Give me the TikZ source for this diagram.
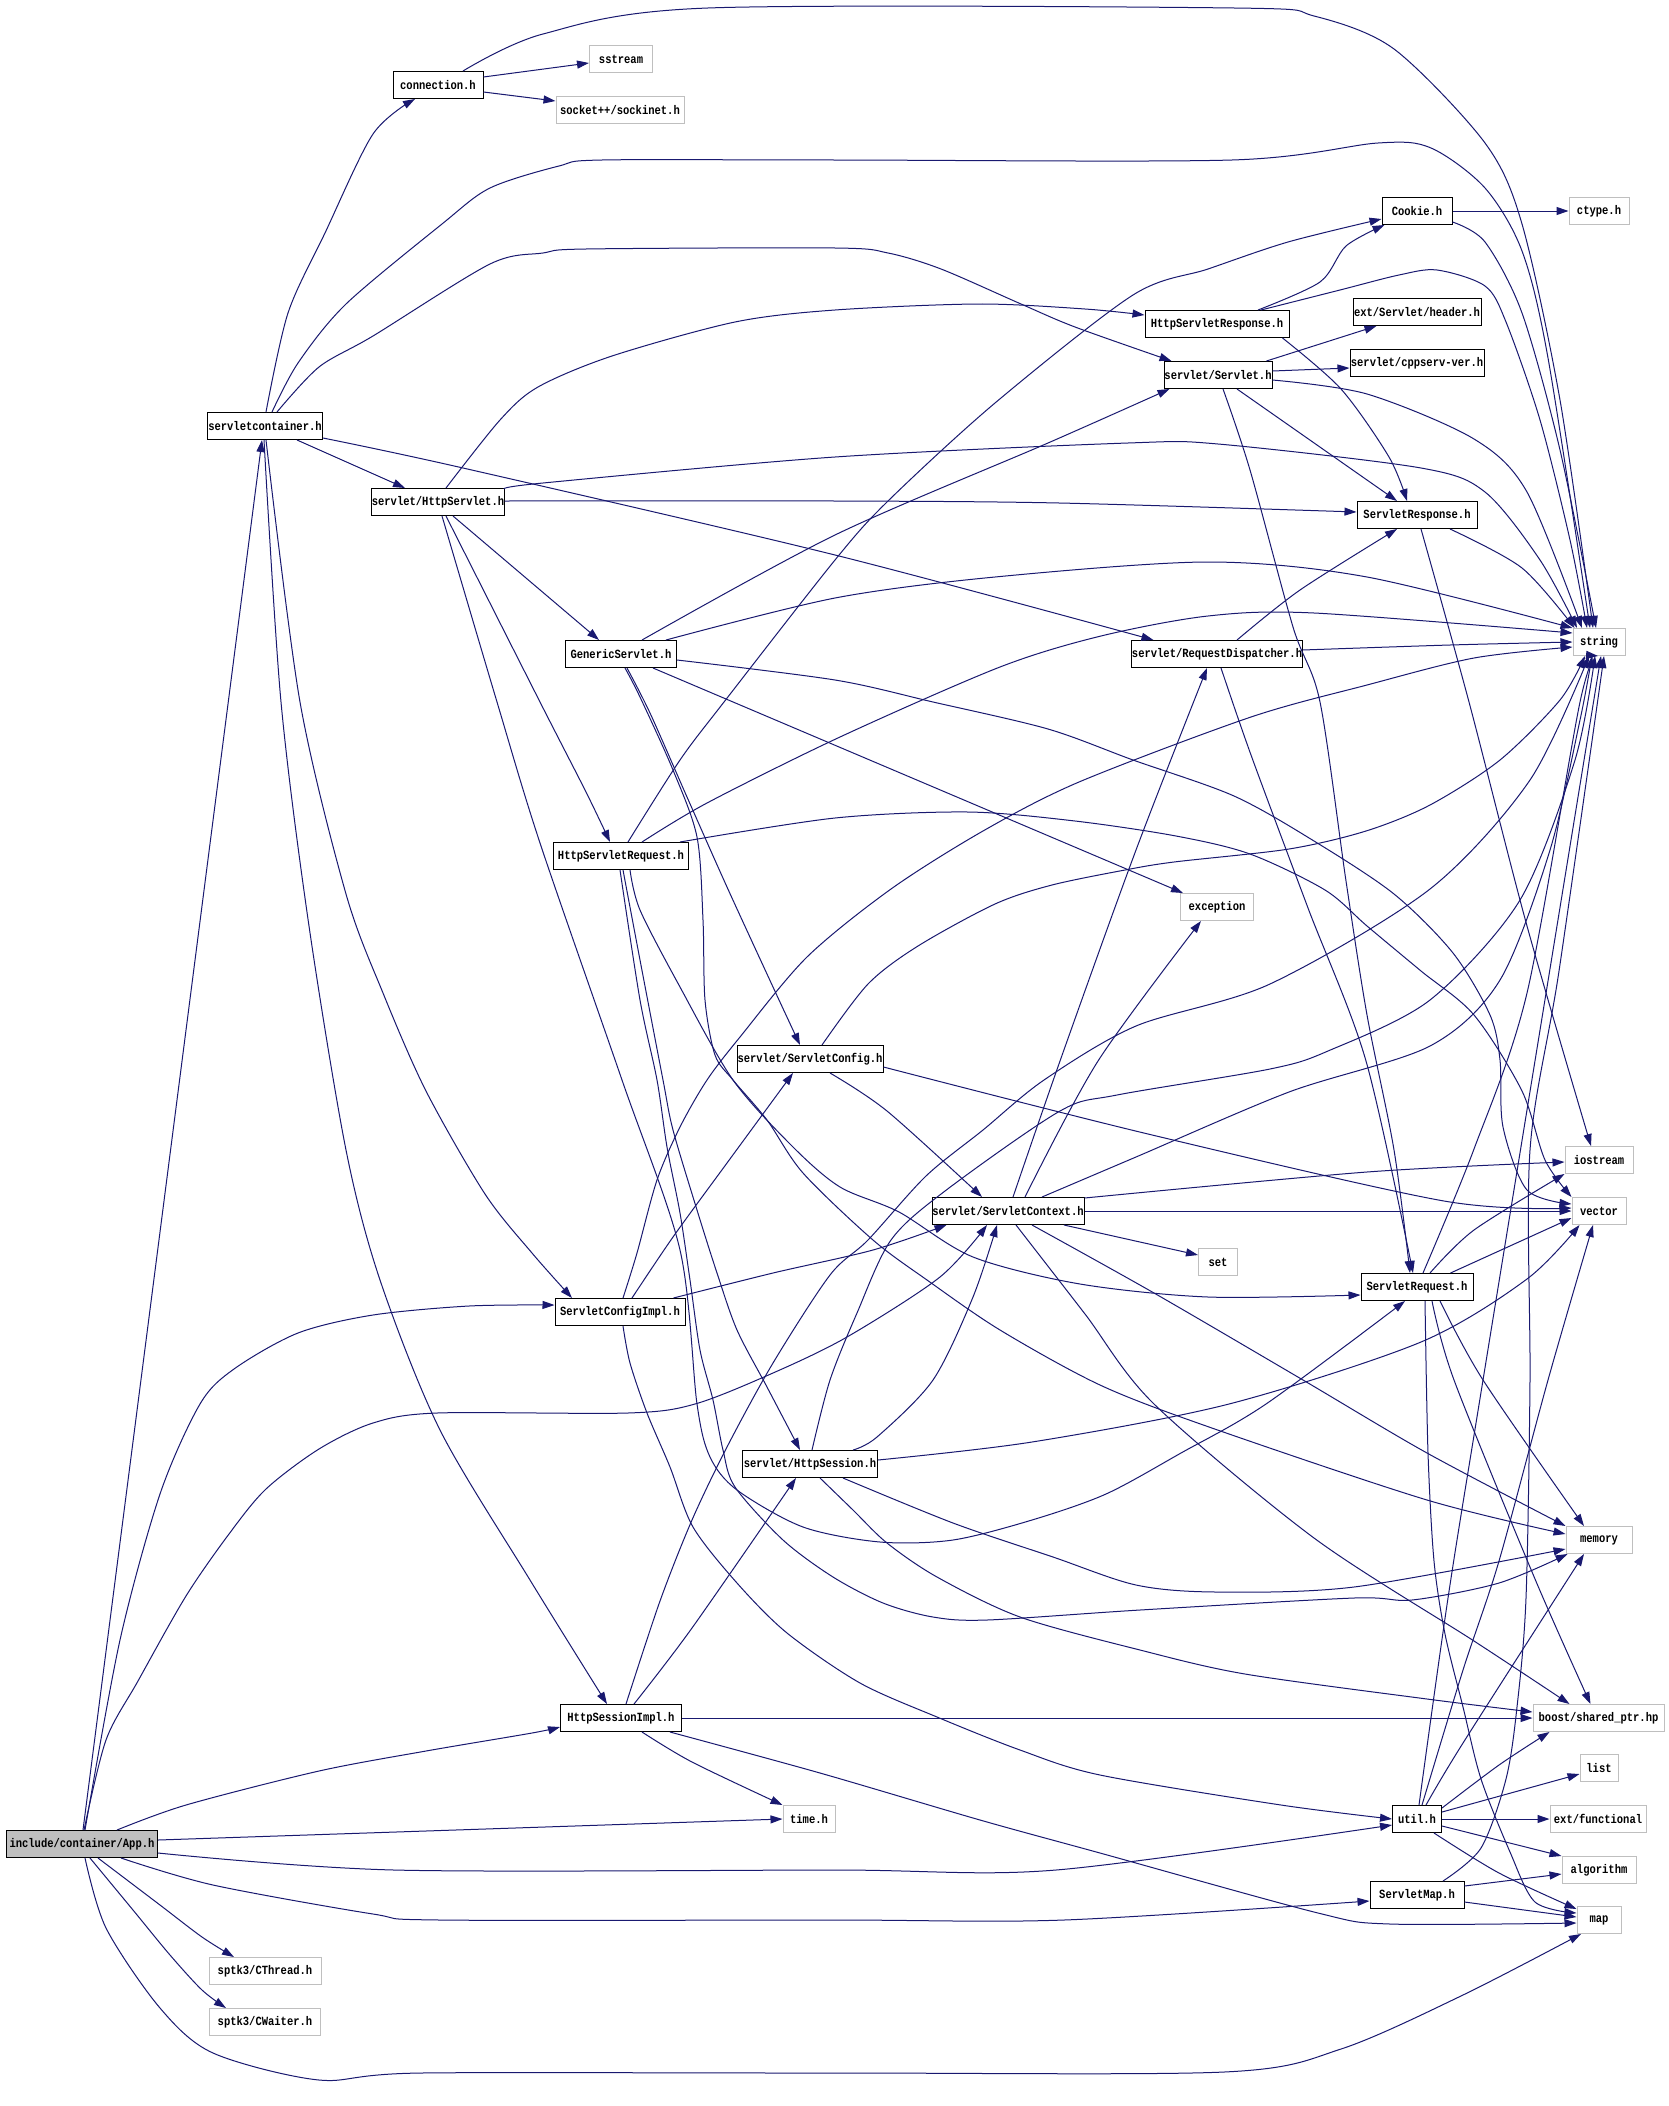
\documentclass[tikz,border=0pt]{standalone}
\usepackage{fontspec}
\newfontfamily\lblfont{Liberation Mono}[FakeStretch=0.84]
\usetikzlibrary{arrows.meta}
\definecolor{edgecol}{RGB}{25,25,112}
\definecolor{extgray}{RGB}{191,191,191}
\definecolor{appfill}{RGB}{191,191,191}
\begin{document}
\begin{tikzpicture}[x=1pt,y=-1pt,
  dep/.style={draw=edgecol, line width=1pt, -{Triangle[length=12pt,width=8pt]}},
  hbox/.style={draw=black, line width=1pt, minimum height=27pt, inner sep=0pt,
    font=\lblfont\bfseries\fontsize{12.5pt}{13pt}\selectfont},
  xbox/.style={hbox, draw=extgray}]
\useasboundingbox (0,0) rectangle (1669,2106);
\fill[white] (0,0) rectangle (1669,2106);

% ---------- nodes ----------
\node[hbox, minimum width=151pt, fill=appfill] (App) at (82,1844) {include/container/App.h};
\node[hbox, minimum width=90pt]  (connection) at (438,85) {connection.h};
\node[xbox, minimum width=63pt]  (sstream) at (621,59) {sstream};
\node[xbox, minimum width=128pt] (socket) at (620,110) {socket++/sockinet.h};
\node[hbox, minimum width=115pt] (servletcontainer) at (265,426) {servletcontainer.h};
\node[hbox, minimum width=131pt] (HttpServlet) at (438,502) {servlet/HttpServlet.h};
\node[hbox, minimum width=111pt] (GenericServlet) at (621,654) {GenericServlet.h};
\node[hbox, minimum width=70pt]  (Cookie) at (1417,211) {Cookie.h};
\node[xbox, minimum width=60pt]  (ctype) at (1599,211) {ctype.h};
\node[hbox, minimum width=144pt] (HttpServletResponse) at (1217,324) {HttpServletResponse.h};
\node[hbox, minimum width=128pt] (header) at (1417,312) {ext/Servlet/header.h};
\node[hbox, minimum width=108pt] (Servlet) at (1218,375) {servlet/Servlet.h};
\node[hbox, minimum width=134pt] (cppserv) at (1417,363) {servlet/cppserv-ver.h};
\node[hbox, minimum width=120pt] (ServletResponse) at (1417,515) {ServletResponse.h};
\node[xbox, minimum width=52pt]  (string) at (1599,642) {string};
\node[hbox, minimum width=170pt] (RequestDispatcher) at (1217,654) {servlet/RequestDispatcher.h};
\node[hbox, minimum width=135pt] (HttpServletRequest) at (621,856) {HttpServletRequest.h};
\node[hbox, minimum width=146pt] (ServletConfig) at (810,1059) {servlet/ServletConfig.h};
\node[hbox, minimum width=130pt] (ServletConfigImpl) at (620,1312) {ServletConfigImpl.h};
\node[xbox, minimum width=73pt]  (exception) at (1217,907) {exception};
\node[hbox, minimum width=152pt] (ServletContext) at (1008,1211) {servlet/ServletContext.h};
\node[xbox, minimum width=39pt]  (set) at (1218,1262) {set};
\node[hbox, minimum width=112pt] (ServletRequest) at (1417,1287) {ServletRequest.h};
\node[xbox, minimum width=68pt]  (iostream) at (1599,1160) {iostream};
\node[xbox, minimum width=54pt]  (vector) at (1599,1211) {vector};
\node[hbox, minimum width=135pt] (HttpSession) at (810,1464) {servlet/HttpSession.h};
\node[hbox, minimum width=121pt] (HttpSessionImpl) at (621,1718) {HttpSessionImpl.h};
\node[xbox, minimum width=52pt]  (timeh) at (809,1819) {time.h};
\node[xbox, minimum width=112pt] (CThread) at (265,1971) {sptk3/CThread.h};
\node[xbox, minimum width=111pt] (CWaiter) at (265,2022) {sptk3/CWaiter.h};
\node[xbox, minimum width=66pt]  (memory) at (1599,1540) {memory};
\node[xbox, minimum width=131pt] (boost) at (1598.5,1718) {boost/shared\_ptr.hp};
\node[xbox, minimum width=38pt]  (list) at (1599,1768) {list};
\node[hbox, minimum width=49pt]  (util) at (1417,1819) {util.h};
\node[xbox, minimum width=96pt]  (functional) at (1598,1819) {ext/functional};
\node[xbox, minimum width=74pt]  (algorithm) at (1599,1870) {algorithm};
\node[hbox, minimum width=94pt]  (ServletMap) at (1417,1895) {ServletMap.h};
\node[xbox, minimum width=44pt]  (map) at (1599,1920) {map};

% ---------- App.h ----------
\draw[dep] ([xshift=1pt]App.north) -- ([xshift=-3pt]servletcontainer.south);
\draw[dep] plot[smooth] coordinates {([xshift=3pt]App.north) (120,1640) (160,1494) (200,1404) (234,1369) (298,1333) (373,1315) (469,1306) ([yshift=7pt]ServletConfigImpl.west)};
\draw[dep] plot[smooth] coordinates {([xshift=2pt]App.north) (106,1740) (138,1681) (186,1596) (229,1534) (266,1489) (319,1449) (373,1423) (437,1413) (628,1413) (695,1404) (773,1373) (847,1337) (940,1277) ([xshift=-21pt]ServletContext.south)};
\draw[dep] plot[smooth] coordinates {([xshift=35pt]App.north) (186,1805) (319,1771) (426,1751) (532,1733) ([yshift=-9pt]HttpSessionImpl.west)};
\draw[dep] ([yshift=4pt]App.east) -- (timeh.west);
\draw[dep] plot[smooth] coordinates {([yshift=-9pt]App.east) (394,1870) (835,1870) (1056,1870) ([yshift=-6pt]util.west)};
\draw[dep] plot[smooth] coordinates {([xshift=39pt]App.south) (213,1885) (373,1914) (440,1920) (835,1920) (1064,1920) ([yshift=-6pt]ServletMap.west)};
\draw[dep] plot[smooth] coordinates {([xshift=16pt]App.south) (160,1905) (202,1937) ([xshift=-31pt]CThread.north)};
\draw[dep] plot[smooth] coordinates {([xshift=8pt]App.south) (133,1910) (170,1955) (202,1990) ([xshift=-39pt]CWaiter.north)};
\draw[dep] plot[smooth] coordinates {([xshift=3pt]App.south) (106,1928) (160,2008) (213,2053) (319,2080) (421,2073) (835,2073) (1224,2072) (1341,2049) (1463,1995) ([xshift=-18pt]map.south)};

% ---------- servletcontainer.h ----------
\draw[dep] plot[smooth] coordinates {([xshift=1pt]servletcontainer.north) (288,313) (325,233) (373,134) ([xshift=-23pt]connection.south)};
\draw[dep] plot[smooth] coordinates {([xshift=7pt]servletcontainer.north) (298,363) (346,304) (442,224) (490,188) (559,166) (602,160) (835,160) (1232,160) (1378,143) (1431,148) (1485,188) (1522,251) (1548,358) ([xshift=-9pt]string.north)};
\draw[dep] plot[smooth] coordinates {([xshift=12pt]servletcontainer.north) (319,367) (373,336) (490,264) (543,253) (586,249) (835,248) (888,253) (941,269) (1021,304) (1075,327) ([xshift=8pt]Servlet.north west)};
\draw[dep] ([xshift=32pt]servletcontainer.south) -- ([xshift=-33pt]HttpServlet.north);
\draw[dep] plot[smooth] coordinates {([yshift=-12pt]servletcontainer.east) (463,468) (835,555) ([xshift=22pt]RequestDispatcher.north west)};
\draw[dep] plot[smooth] coordinates {([xshift=1pt]servletcontainer.south) (300,702) (346,894) (383,993) (426,1091) (485,1194) (532,1253) ([xshift=-48pt]ServletConfigImpl.north)};
\draw[dep] plot[smooth] coordinates {([xshift=-1pt]servletcontainer.south) (281,702) (309,926) (346,1150) (380,1280) (440,1430) (530,1580) ([xshift=-14pt]HttpSessionImpl.north)};

% ---------- connection.h ----------
\draw[dep] ([yshift=8pt]connection.east) -- ([yshift=-4pt]sstream.west);
\draw[dep] ([yshift=-7pt]connection.east) -- ([yshift=9pt]socket.west);
\draw[dep] plot[smooth] coordinates {([xshift=25pt]connection.north) (543,34) (708,8) (1234,8) (1314,16) (1394,49) (1485,143) (1522,224) (1560,400) ([xshift=-6pt]string.north)};

% ---------- servlet/HttpServlet.h ----------
\draw[dep] plot[smooth] coordinates {([xshift=8pt]HttpServlet.north) (500,420) (538,387) (612,356) (735,322) (835,310) (979,304) (1085,309) ([yshift=9pt]HttpServletResponse.west)};
\draw[dep] plot[smooth] coordinates {([yshift=13pt]HttpServlet.east) (543,483) (835,457) (1128,443) (1218,444) (1421,468) (1485,492) (1540,560) ([xshift=-22pt]string.north)};
\draw[dep] plot[smooth] coordinates {([yshift=1pt]HttpServlet.east) (835,501) (1059,503) ([yshift=3pt]ServletResponse.west)};
\draw[dep] ([xshift=15pt]HttpServlet.south) -- ([xshift=-22pt]GenericServlet.north);
\draw[dep] plot[smooth] coordinates {([xshift=8pt]HttpServlet.south) (540,702) (586,792) ([xshift=-11pt]HttpServletRequest.north)};
\draw[dep] plot[smooth] coordinates {([xshift=4pt]HttpServlet.south) (497,702) (540,843) (622,1080) (680,1250) (697,1404) (710,1457) (737,1490) (803,1527) (880,1542) (953,1540) (1032,1520) (1106,1494) (1181,1453) (1266,1404) ([xshift=-12pt]ServletRequest.south)};

% ---------- GenericServlet.h ----------
\draw[dep] plot[smooth] coordinates {([xshift=21pt]GenericServlet.north) (835,535) (1048,443) ([xshift=6pt]Servlet.south west)};
\draw[dep] plot[smooth] coordinates {([xshift=45pt]GenericServlet.north) (835,598) (995,577) (1208,562) (1367,577) (string.north west)};
\draw[dep] plot[smooth] coordinates {([yshift=-6pt]GenericServlet.east) (835,680) (933,702) (1048,729) (1133,760) (1234,796) (1314,841) (1394,894) (1453,953) (1490,1015) (1500,1060) (1503,1127) (1527,1190) ([yshift=7pt]vector.west)};
\draw[dep] ([xshift=32pt]GenericServlet.south) -- ([xshift=3pt]exception.north west);
\draw[dep] plot[smooth] coordinates {([xshift=6pt]GenericServlet.south) (650,713) (687,797) (727,887) (773,987) ([xshift=-10pt]ServletConfig.north)};
\draw[dep] plot[smooth] coordinates {([xshift=4pt]GenericServlet.south) (640,697) (673,770) (697,837) (703,920) (705,1000) (715,1055) (733,1080) (767,1120) (803,1173) (873,1240) (927,1280) (1000,1330) (1100,1385) (1209,1427) (1427,1500) ([yshift=6pt]memory.west)};

% ---------- HttpServletRequest.h ----------
\draw[dep] plot[smooth] coordinates {([xshift=7pt]HttpServletRequest.north) (680,760) (724,702) (835,560) (888,501) (995,403) (1133,295) (1208,269) (1288,242) ([yshift=-8pt]Cookie.west)};
\draw[dep] plot[smooth] coordinates {([xshift=21pt]HttpServletRequest.north) (707,803) (840,737) (1000,667) (1101,636) (1208,616) (1314,613) ([yshift=9pt]string.west)};
\draw[dep] plot[smooth] coordinates {([xshift=-9pt]HttpServletRequest.north east) (835,818) (968,812) (1075,821) (1176,836) (1250,854) (1325,890) (1367,926) (1421,971) (1474,1015) (1522,1091) (1545,1160) (vector.north west)};
\draw[dep] plot[smooth] coordinates {([xshift=9pt]HttpServletRequest.south) (640,910) (680,987) (733,1080) (793,1147) (840,1187) (899,1212) (973,1257) (1080,1284) (1208,1297) ([yshift=-8pt]ServletRequest.west)};
\draw[dep] plot[smooth] coordinates {([xshift=2pt]HttpServletRequest.south) (640,960) (663,1080) (673,1130) (697,1210) (717,1273) (737,1330) (767,1387) ([xshift=-10pt]HttpSession.north)};
\draw[dep] plot[smooth] coordinates {([xshift=-1pt]HttpServletRequest.south) (640,1000) (657,1080) (667,1147) (680,1213) (690,1280) (700,1350) (713,1400) (723,1450) (735,1487) (783,1540) (833,1577) (883,1603) (933,1617) (987,1620) (1140,1610) (1354,1598) (1412,1600) (1499,1583) ([xshift=2pt]memory.south west)};

% ---------- HttpServletResponse.h ----------
\draw[dep] plot[smooth] coordinates {([xshift=41pt]HttpServletResponse.north) (1320,282) (1346,246) ([xshift=3pt]Cookie.south west)};
\draw[dep] plot[smooth] coordinates {([xshift=44pt]HttpServletResponse.north) (1340,290) (1399,275) (1437,270) (1485,286) (1506,322) (1540,420) (1570,540) ([xshift=-12pt]string.north)};
\draw[dep] plot[smooth] coordinates {([xshift=-7pt]HttpServletResponse.south east) (1341,389) (1389,457) ([xshift=-10pt]ServletResponse.north)};

% ---------- Cookie.h ----------
\draw[dep] (Cookie.east) -- (ctype.west);
\draw[dep] plot[smooth] coordinates {([yshift=-11pt]Cookie.east) (1485,242) (1522,313) (1560,450) ([xshift=-3pt]string.north)};

% ---------- servlet/Servlet.h ----------
\draw[dep] ([xshift=-6pt]Servlet.north east) -- ([xshift=24pt]header.south west);
\draw[dep] ([yshift=4pt]Servlet.east) -- ([yshift=-5pt]cppserv.west);
\draw[dep] plot[smooth] coordinates {([yshift=-5pt]Servlet.east) (1367,394) (1474,439) (1527,492) ([xshift=-17pt]string.north)};
\draw[dep] ([xshift=19pt]Servlet.south) -- ([xshift=-20pt]ServletResponse.north);
\draw[dep] plot[smooth] coordinates {([xshift=5pt]Servlet.south) (1250,470) (1293,627) (1320,702) (1346,881) (1367,1015) (1394,1150) ([xshift=-7pt]ServletRequest.north)};

% ---------- ServletResponse.h ----------
\draw[dep] plot[smooth] coordinates {([xshift=33pt]ServletResponse.south) (1522,568) ([xshift=2pt]string.north west)};
\draw[dep] plot[smooth] coordinates {([xshift=4pt]ServletResponse.south) (1469,702) (1527,926) ([xshift=-8pt]iostream.north)};

% ---------- servlet/RequestDispatcher.h ----------
\draw[dep] plot[smooth] coordinates {([yshift=4pt]RequestDispatcher.east) (1450,645) (string.west)};
\draw[dep] plot[smooth] coordinates {([xshift=20pt]RequestDispatcher.north) (1300,590) ([xshift=-20pt]ServletResponse.south)};
\draw[dep] plot[smooth] coordinates {([xshift=4pt]RequestDispatcher.south) (1251,755) (1308,908) (1366,1061) ([xshift=-4pt]ServletRequest.north)};

% ---------- servlet/ServletConfig.h ----------
\draw[dep] plot[smooth] coordinates {([xshift=20pt]ServletConfig.south) (887,1111) ([xshift=-26pt]ServletContext.north)};
\draw[dep] plot[smooth] coordinates {([xshift=12pt]ServletConfig.north) (868,984) (918,946) (995,904) (1052,885) (1125,870) (1174,862) (1289,849) (1366,831) (1430,805) (1500,760) (1560,700) ([xshift=-14pt]string.south)};
\draw[dep] plot[smooth] coordinates {([yshift=-8pt]ServletConfig.east) (1148,1134) (1444,1201) ([yshift=3pt]vector.west)};

% ---------- ServletConfigImpl.h ----------
\draw[dep] plot[smooth] coordinates {([xshift=12pt]ServletConfigImpl.north) (673,1237) (727,1163) ([xshift=-17pt]ServletConfig.south)};
\draw[dep] plot[smooth] coordinates {([xshift=-12pt]ServletConfigImpl.north east) (773,1273) (873,1250) ([xshift=15pt]ServletContext.south west)};
\draw[dep] plot[smooth] coordinates {([xshift=3pt]ServletConfigImpl.north) (637,1253) (657,1180) (680,1127) (707,1080) (740,1037) (807,957) (891,889) (983,831) (1079,782) (1251,717) (1367,685) (1474,658) ([yshift=-5pt]string.west)};
\draw[dep] plot[smooth] coordinates {([xshift=3pt]ServletConfigImpl.south) (630,1363) (647,1413) (670,1467) (693,1527) (737,1583) (787,1633) (860,1683) (937,1717) (1020,1750) (1100,1775) (1281,1805) (util.west)};

% ---------- servlet/ServletContext.h ----------
\draw[dep] plot[smooth] coordinates {([xshift=5pt]ServletContext.north) (1060,1061) (1136,850) ([xshift=-10pt]RequestDispatcher.south)};
\draw[dep] plot[smooth] coordinates {([xshift=17pt]ServletContext.north) (1098,1061) ([xshift=-16pt]exception.south)};
\draw[dep] plot[smooth] coordinates {([xshift=34pt]ServletContext.north) (1136,1157) (1289,1092) (1430,1046) (1500,980) (1550,850) (1580,720) ([xshift=-7pt]string.south)};
\draw[dep] plot[smooth] coordinates {([yshift=13pt]ServletContext.east) (1367,1172) ([yshift=-2pt]iostream.west)};
\draw[dep] (ServletContext.east) -- (vector.west);
\draw[dep] ([xshift=56pt]ServletContext.south) -- ([yshift=7pt]set.west);
\draw[dep] plot[smooth] coordinates {([xshift=24pt]ServletContext.south) (1154,1293) (1303,1380) (1427,1453) (memory.north west)};
\draw[dep] plot[smooth] coordinates {([xshift=8pt]ServletContext.south) (1085,1314) (1154,1404) (1314,1538) (1474,1641) ([xshift=37pt]boost.north west)};

% ---------- servlet/HttpSession.h ----------
\draw[dep] plot[smooth] coordinates {([xshift=43pt]HttpSession.north) (877,1437) (933,1380) (973,1297) ([xshift=-11pt]ServletContext.south)};
\draw[dep] plot[smooth] coordinates {([xshift=2pt]HttpSession.north) (830,1380) (857,1313) (891,1240) (945,1191) (1060,1111) (1117,1095) (1270,1069) (1328,1051) (1430,1000) (1520,900) (1575,760) ([xshift=-4pt]string.south)};
\draw[dep] plot[smooth] coordinates {([yshift=4pt]HttpSession.east) (1032,1442) (1229,1404) (1421,1342) (1527,1279) ([xshift=8pt]vector.south west)};
\draw[dep] plot[smooth] coordinates {([xshift=33pt]HttpSession.south) (953,1523) (1053,1557) (1136,1585) (1216,1592) (1354,1587) ([yshift=-9pt]memory.west)};
\draw[dep] plot[smooth] coordinates {([xshift=10pt]HttpSession.south) (853,1510) (887,1543) (937,1577) (1020,1617) (1140,1650) (1245,1674) (1427,1699) ([yshift=6pt]boost.west)};

% ---------- HttpSessionImpl.h ----------
\draw[dep] plot[smooth] coordinates {([xshift=13pt]HttpSessionImpl.north) (692,1628) ([xshift=-14pt]HttpSession.south)};
\draw[dep] plot[smooth] coordinates {([xshift=5pt]HttpSessionImpl.north) (660,1601) (692,1520) (727,1447) (773,1363) (830,1275) (868,1240) (926,1176) (983,1130) (1044,1080) (1136,1026) (1270,984) (1430,889) (1530,780) ([xshift=-10pt]string.south)};
\draw[dep] (HttpSessionImpl.east) -- (boost.west);
\draw[dep] plot[smooth] coordinates {([xshift=21pt]HttpSessionImpl.south) (692,1762) (timeh.north west)};
\draw[dep] plot[smooth] coordinates {([xshift=49pt]HttpSessionImpl.south) (820,1773) (980,1820) (1100,1853) (1318,1913) (1390,1924) ([yshift=-3pt]map.west)};

% ---------- ServletRequest.h ----------
\draw[dep] plot[smooth] coordinates {([xshift=6pt]ServletRequest.north) (1474,1149) (1527,993) (1580,702) ([xshift=-1pt]string.south)};
\draw[dep] plot[smooth] coordinates {([xshift=13pt]ServletRequest.north) (1474,1230) (iostream.south west)};
\draw[dep] ([xshift=-23pt]ServletRequest.north east) -- ([yshift=-7pt]vector.west);
\draw[dep] plot[smooth] coordinates {([xshift=23pt]ServletRequest.south) (1483,1380) ([xshift=-15pt]memory.north)};
\draw[dep] plot[smooth] coordinates {([xshift=15pt]ServletRequest.south) (1454,1380) (1535,1579) ([xshift=-8pt]boost.north)};
\draw[dep] plot[smooth] coordinates {([xshift=8pt]ServletRequest.south) (1428,1453) (1434,1561) (1445,1634) (1463,1707) (1481,1779) (1510,1852) (1535,1902) ([yshift=7pt]map.west)};

% ---------- util.h ----------
\draw[dep] plot[smooth] coordinates {([xshift=2pt]util.north) (1448,1598) (1483,1380) ([xshift=2pt]string.south)};
\draw[dep] plot[smooth] coordinates {([xshift=5pt]util.north) (1463,1670) (1499,1561) (1548,1380) ([xshift=-6pt]vector.south)};
\draw[dep] plot[smooth] coordinates {([xshift=9pt]util.north) (1463,1743) ([xshift=-15pt]memory.south)};
\draw[dep] plot[smooth] coordinates {([yshift=11pt]util.east) (1499,1765) ([xshift=17pt]boost.south west)};
\draw[dep] ([yshift=7pt]util.east) -- ([yshift=-6pt]list.west);
\draw[dep] (util.east) -- (functional.west);
\draw[dep] ([yshift=-7pt]util.east) -- (algorithm.north west);
\draw[dep] plot[smooth] coordinates {([xshift=-8pt]util.south east) (1499,1873) ([yshift=11pt]map.west)};

% ---------- ServletMap.h ----------
\draw[dep] plot[smooth] coordinates {([xshift=26pt]ServletMap.north) (1481,1848) (1506,1779) (1517,1707) (1526,1598) (1530,1380) (1530,1150) (1559,971) ([xshift=5pt]string.south)};
\draw[dep] ([yshift=9pt]ServletMap.east) -- ([yshift=-4pt]algorithm.west);
\draw[dep] ([yshift=-7pt]ServletMap.east) -- ([yshift=3pt]map.west);
\end{tikzpicture}
\end{document}
